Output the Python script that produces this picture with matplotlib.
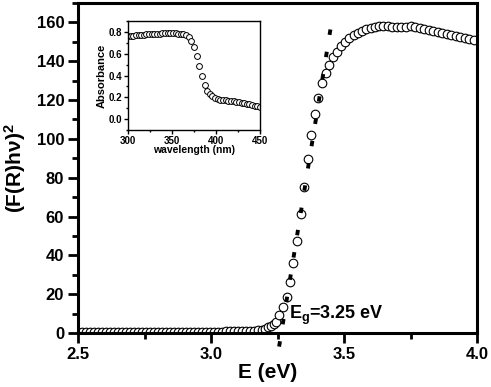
import matplotlib
matplotlib.use("Agg")
import matplotlib.pyplot as plt
from matplotlib.ticker import MultipleLocator

plt.rcParams['font.family'] = ['Liberation Sans', 'DejaVu Sans']
plt.rcParams['font.weight'] = 'bold'
plt.rcParams['axes.labelweight'] = 'bold'
plt.rcParams['mathtext.fontset'] = 'custom'
plt.rcParams['mathtext.rm'] = 'Liberation Sans:bold'
plt.rcParams['mathtext.bf'] = 'Liberation Sans:bold'
plt.rcParams['mathtext.it'] = 'Liberation Sans:bold'
plt.rcParams['mathtext.default'] = 'bf'

# main curve: (F(R)hv)^2 vs photon energy
energy = [2.500, 2.515, 2.530, 2.545, 2.560, 2.575, 2.590, 2.605, 2.620, 2.635,
          2.650, 2.665, 2.680, 2.695, 2.710, 2.725, 2.740, 2.755, 2.770, 2.785,
          2.800, 2.815, 2.830, 2.845, 2.860, 2.875, 2.890, 2.905, 2.920, 2.935,
          2.950, 2.965, 2.980, 2.995, 3.010, 3.025, 3.040, 3.055, 3.070, 3.085,
          3.100, 3.115, 3.130, 3.145, 3.160, 3.175, 3.190, 3.203, 3.215, 3.225,
          3.235, 3.245, 3.257, 3.270, 3.284, 3.297, 3.310, 3.323, 3.337, 3.350,
          3.363, 3.376, 3.390, 3.403, 3.417, 3.431, 3.445, 3.460, 3.475, 3.490,
          3.505, 3.520, 3.536, 3.552, 3.568, 3.584, 3.600, 3.616, 3.632, 3.648,
          3.665, 3.682, 3.699, 3.716, 3.733, 3.750, 3.767, 3.784, 3.801, 3.818,
          3.835, 3.852, 3.869, 3.886, 3.903, 3.920, 3.937, 3.954, 3.971, 3.988]
fr = [0.5, 0.5, 0.5, 0.5, 0.5, 0.5, 0.5, 0.5, 0.5, 0.5,
      0.5, 0.5, 0.5, 0.5, 0.5, 0.5, 0.5, 0.5, 0.5, 0.5,
      0.5, 0.5, 0.5, 0.5, 0.5, 0.5, 0.5, 0.6, 0.6, 0.6,
      0.6, 0.6, 0.6, 0.7, 0.7, 0.7, 0.7, 0.8, 0.8, 0.8,
      0.9, 0.9, 1.0, 1.0, 1.1, 1.3, 1.7, 2.2, 2.9, 3.6,
      4.6, 5.8, 9.3, 13.3, 18.7, 26.5, 36.0, 47.6, 61.4, 75.4,
      89.8, 102.0, 113.0, 121.0, 129.0, 134.0, 138.0, 142.0, 145.0, 148.0,
      150.0, 152.0, 153.5, 154.5, 155.5, 156.5, 157.0, 157.5, 158.0, 158.0,
      158.0, 157.5, 157.5, 157.5, 157.5, 158.0, 157.5, 157.0, 156.5, 156.0,
      155.5, 155.0, 154.5, 154.0, 153.5, 153.0, 152.5, 152.0, 151.5, 151.0]

# linear fit used for the band gap
fit_e = [3.256, 3.452]
fit_y = [-7, 159]

# inset: absorbance spectrum
wavelength = [300, 303, 306, 309, 312, 315, 318, 321, 324, 327,
              330, 333, 336, 339, 342, 345, 348, 351, 354, 357,
              360, 363, 366, 369, 372, 375, 378, 381, 384, 387,
              390, 393, 396, 399, 402, 405, 408, 411, 414, 417,
              420, 423, 426, 429, 432, 435, 438, 441, 444, 447, 450]
absorb = [0.76, 0.76, 0.765, 0.77, 0.77, 0.775, 0.775, 0.78, 0.78, 0.78,
          0.785, 0.785, 0.785, 0.79, 0.79, 0.79, 0.79, 0.79, 0.79, 0.785,
          0.785, 0.78, 0.77, 0.75, 0.72, 0.66, 0.58, 0.49, 0.40, 0.31,
          0.26, 0.23, 0.21, 0.195, 0.185, 0.18, 0.175, 0.175, 0.17, 0.165,
          0.165, 0.16, 0.155, 0.15, 0.145, 0.14, 0.135, 0.13, 0.125, 0.12, 0.115]

fig = plt.figure(figsize=(4.91, 3.87), dpi=100)
ax = fig.add_axes([0.1589, 0.1395, 0.8126, 0.8527])

ax.plot(energy, fr, 'o', ms=6.2, mfc='white', mec='black', mew=0.8)
ax.plot(fit_e, fit_y, color='black', lw=2.8, ls=(0, (1.4, 4.4)), clip_on=False)

ax.set_xlim(2.5, 4.0)
ax.set_ylim(0, 170)
ax.xaxis.set_major_locator(MultipleLocator(0.5))
ax.xaxis.set_minor_locator(MultipleLocator(0.25))
ax.yaxis.set_major_locator(MultipleLocator(20))
ax.yaxis.set_minor_locator(MultipleLocator(10))
ax.tick_params(which='both', direction='out', width=2, labelsize=12, pad=3)
ax.tick_params(which='major', length=7)
ax.tick_params(which='minor', length=4)
ax.xaxis.set_major_formatter(matplotlib.ticker.FormatStrFormatter('%.1f'))
for s in ax.spines.values():
    s.set_linewidth(2.2)

ax.set_xlabel('E (eV)', fontsize=15, labelpad=4)
ax.xaxis.set_label_coords(0.475, -0.09)
ax.set_ylabel('(F(R)h\u03bd)$^2$', fontsize=15, labelpad=6)
ax.text(3.292, 7, r'$E_g$=3.25 eV', fontsize=13)

# inset
ins = fig.add_axes([0.2607, 0.664, 0.2688, 0.2817])
ins.plot(wavelength, absorb, 'o', ms=4.2, mfc='white', mec='black', mew=0.7)
ins.set_xlim(300, 450)
ins.set_ylim(-0.1, 0.9)
ins.xaxis.set_major_locator(MultipleLocator(50))
ins.xaxis.set_minor_locator(MultipleLocator(25))
ins.yaxis.set_major_locator(MultipleLocator(0.2))
ins.yaxis.set_minor_locator(MultipleLocator(0.1))
ins.tick_params(which='both', direction='out', width=1, labelsize=7, pad=1.5)
ins.tick_params(which='major', length=3)
ins.tick_params(which='minor', length=1.5)
for s in ins.spines.values():
    s.set_linewidth(1)
ins.set_xlabel('wavelength (nm)', fontsize=7.5, labelpad=-1)
ins.set_ylabel('Absorbance', fontsize=8, labelpad=1)

fig.savefig('out.png', dpi=100)
